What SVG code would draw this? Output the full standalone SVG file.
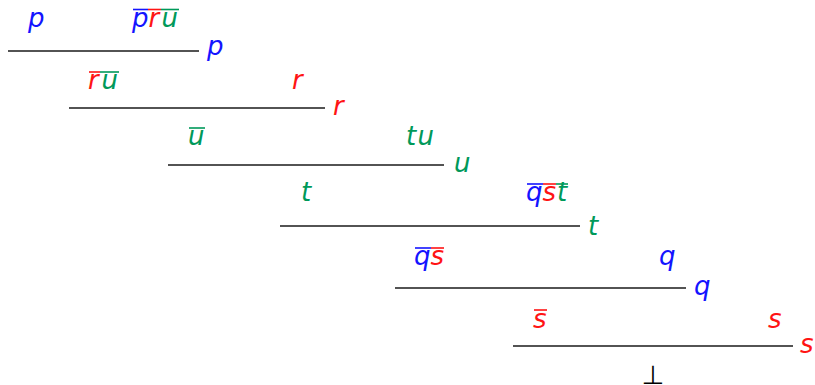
<svg xmlns="http://www.w3.org/2000/svg" width="815" height="385" viewBox="0 0 815 385">
<style>
text{font-family:"DejaVu Sans","Liberation Sans",sans-serif;font-style:italic;font-size:26px}
.b{fill:#1414ff}.r{fill:#ff1414}.g{fill:#00995a}
.ob{stroke:#1414ff;stroke-width:1.6}.or{stroke:#ff1414;stroke-width:1.6}.og{stroke:#00995a;stroke-width:1.6}
.rule{stroke:#1a1a1a;stroke-width:1.3}
.bot{font-style:normal;fill:#000}
</style>
<rect width="815" height="385" fill="#fff"/>
<g id="connectors">
<line class="rule" x1="8" y1="51" x2="199" y2="51"/>
<line class="rule" x1="69" y1="108" x2="325" y2="108"/>
<line class="rule" x1="168" y1="165" x2="444" y2="165"/>
<line class="rule" x1="280" y1="226" x2="580" y2="226"/>
<line class="rule" x1="395" y1="288" x2="686" y2="288"/>
<line class="rule" x1="513" y1="346" x2="793" y2="346"/>
</g>
<g id="step1">
<text class="b" x="28" y="27">p</text>
<text class="b" x="132" y="27">p</text><text class="r" x="148.5" y="27">r</text><text class="g" x="161.5" y="27">u</text>
<line class="ob" x1="133" y1="9.5" x2="148" y2="9.5"/><line class="or" x1="148" y1="9.5" x2="161" y2="9.5"/><line class="og" x1="161" y1="9.5" x2="179" y2="9.5"/>
<text class="b" x="207" y="55">p</text>
</g>
<g id="step2">
<text class="r" x="88" y="89">r</text><text class="g" x="101.5" y="89">u</text>
<line class="or" x1="89" y1="72" x2="100" y2="72"/><line class="og" x1="100" y1="72" x2="119" y2="72"/>
<text class="r" x="292" y="89">r</text>
<text class="r" x="333" y="115">r</text>
</g>
<g id="step3">
<text class="g" x="188" y="145">u</text>
<line class="og" x1="189" y1="128" x2="205" y2="128"/>
<text class="g" x="406" y="145">t</text><text class="g" x="417.5" y="145">u</text>
<text class="g" x="454" y="172">u</text>
</g>
<g id="step4">
<text class="g" x="301" y="201">t</text>
<text class="b" x="526" y="201">q</text><text class="r" x="542.5" y="201">s</text><text class="g" x="557" y="201">t</text>
<line class="ob" x1="527" y1="184" x2="543" y2="184"/><line class="or" x1="543" y1="184" x2="556" y2="184"/><line class="og" x1="556" y1="184" x2="568" y2="184"/>
<text class="g" x="588" y="235">t</text>
</g>
<g id="step5">
<text class="b" x="414" y="265">q</text><text class="r" x="430.5" y="265">s</text>
<line class="ob" x1="415" y1="248" x2="431" y2="248"/><line class="or" x1="431" y1="248" x2="444" y2="248"/>
<text class="b" x="659" y="265">q</text>
<text class="b" x="694" y="295">q</text>
</g>
<g id="step6">
<text class="r" x="533" y="328">s</text>
<line class="or" x1="534" y1="310" x2="547" y2="310"/>
<text class="r" x="768" y="328">s</text>
<text class="r" x="800" y="353">s</text>
</g>
<g id="bottom">
<text class="bot" x="653" y="384" text-anchor="middle">⊥</text>
</g>
</svg>
